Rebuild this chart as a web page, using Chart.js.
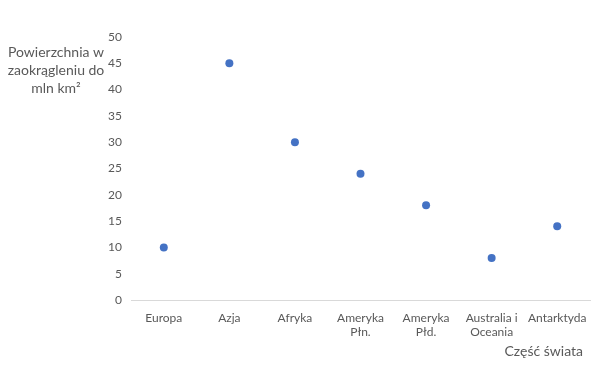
<!DOCTYPE html>
<html>
<head>
<meta charset="utf-8">
<script src="https://cdn.jsdelivr.net/npm/chart.js@4/dist/chart.umd.min.js"></script>
<style>
  body { margin: 0; background: #fff; }
  canvas { display: block; }
</style>
</head>
<body>
<canvas id="wykres" width="605" height="368"></canvas>
<script>
// Dane
const kontynenty = ['Europa', 'Azja', 'Afryka', ['Ameryka', 'Płn.'], ['Ameryka', 'Płd.'], ['Australia i', 'Oceania'], 'Antarktyda'];
const powierzchnia = [10, 45, 30, 24, 18, 8, 14];
const tytulY = ['Powierzchnia w', 'zaokrągleniu do', 'mln km²'];
const tytulX = 'Część świata';

const szary = '#595959';

// tytuły osi rysowane ręcznie
const tytuly = {
    id: 'tytuly',
    afterDraw(chart) {
        const ctx = chart.ctx;
        ctx.save();
        ctx.fillStyle = szary;
        ctx.font = '14px Lato';
        ctx.textAlign = 'center';
        ctx.textBaseline = 'middle';
        tytulY.forEach((t, i) => ctx.fillText(t, 56, 52 + i * 18));
        ctx.textAlign = 'right';
        ctx.fillText(tytulX, 583, 351);
        ctx.restore();
    }
};

new Chart(document.getElementById('wykres'), {
    type: 'line',
    data: {
        labels: kontynenty,
        datasets: [{
            data: powierzchnia,
            showLine: false,
            pointRadius: 4,
            pointHoverRadius: 4,
            pointBackgroundColor: '#4472C4',
            pointBorderColor: '#4472C4',
            pointBorderWidth: 0
        }]
    },
    options: {
        responsive: false,
        animation: false,
        layout: { padding: { top: 37, right: 15, left: 0, bottom: 0 } },
        plugins: {
            legend: { display: false },
            tooltip: { enabled: false }
        },
        scales: {
            x: {
                offset: true,
                grid: { display: false, drawTicks: false },
                border: { display: true, color: '#D9D9D9' },
                ticks: { color: szary, font: { family: 'Lato', size: 12 }, padding: 11, maxRotation: 0, autoSkip: false },
                afterFit: s => { s.height = 68; }
            },
            y: {
                min: 0,
                max: 50,
                grid: { display: false, drawTicks: false },
                border: { display: false },
                ticks: { stepSize: 5, color: szary, font: { family: 'Lato', size: 12 }, padding: 9 },
                afterFit: s => { s.width = 131; }
            }
        }
    },
    plugins: [tytuly]
});
</script>
</body>
</html>
